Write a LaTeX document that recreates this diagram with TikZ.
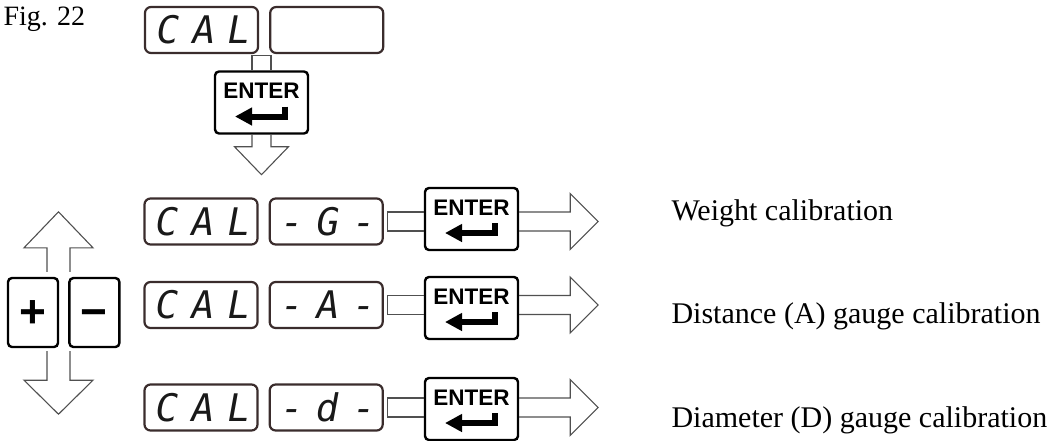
\documentclass[tikz,border=0pt]{standalone}
\usepackage{fontspec}
\setmainfont{Liberation Serif}
\newfontfamily\keyfont{Liberation Sans}
\newfontfamily\segfont[FakeSlant=0.18]{DejaVu Sans Mono}
\usepackage{xcolor}
\usetikzlibrary{positioning,arrows.meta,calc}
\definecolor{dispedge}{RGB}{58,44,44}
\definecolor{hollowline}{RGB}{80,80,80}

\begin{document}
\begin{tikzpicture}[
  x=1pt, y=-1pt,
  display/.style={draw=dispedge, line width=2.2pt, rounded corners=6pt,
                  minimum width=113pt, minimum height=46pt, inner sep=0pt,
                  font=\segfont\fontsize{38}{38}\selectfont, text=black!90},
  enterkey/.style={draw, line width=2.4pt, rounded corners=4pt,
                   minimum width=93pt, minimum height=62pt, inner sep=0pt,
                   text height=16pt, text depth=24pt,
                   font=\keyfont\bfseries\fontsize{22.5}{22.5}\selectfont},
  pmkey/.style={draw, line width=2.4pt, rounded corners=4pt,
                minimum width=50pt, minimum height=69pt, inner sep=0pt,
                text height=30pt, text depth=0pt,
                font=\keyfont\bfseries\fontsize{46}{46}\selectfont},
  hollow/.style={draw=hollowline, line width=1.1pt, line join=miter},
  retarrow/.style={line width=6pt, -{Triangle[length=17pt,width=17pt]}},
  caption/.style={anchor=base west, font=\fontsize{30}{36}\selectfont}
]
\useasboundingbox (0,0) rectangle (1048,440);

\node (fig) [caption, font=\fontsize{28}{34}\selectfont] at (0,25) {Fig. 22};

% top: CAL and empty display, then ENTER
\node (cal0) [display] at (201.5,30) {C\kern13pt A\kern13pt L};
\node (blank0) [display, right=10pt of cal0] {};
\node (enter0) [enterkey] at (261.5,102.5) {ENTER};

% selector rows
\node (calG) [display] at (201,221.5) {C\kern13pt A\kern13pt L};
\node (selG) [display, right=10pt of calG] {-\kern13pt G\kern13pt -};
\node (enterG) [enterkey, right=40pt of selG, yshift=2.5pt] {ENTER};

\node (calA) [display] at (201,305) {C\kern13pt A\kern13pt L};
\node (selA) [display, right=10pt of calA] {-\kern13pt A\kern13pt -};
\node (enterA) [enterkey, right=40pt of selA, yshift=-3pt] {ENTER};

\node (cald) [display] at (201,407.5) {C\kern13pt A\kern13pt L};
\node (seld) [display, right=10pt of cald] {-\kern13pt d\kern13pt -};
\node (enterd) [enterkey, right=40pt of seld, yshift=-1.5pt] {ENTER};

\node (wlabel) [caption] at (668,220) {Weight calibration};
\node (alabel) [caption] at (668,323) {Distance (A) gauge calibration};
\node (dlabel) [caption] at (668,427) {Diameter (D) gauge calibration};

% + / - keys
\node (plus) [pmkey] at (33,312.5) {+};
\node (minus) [pmkey, right=9pt of plus] {−};

% return arrows on the ENTER keys
\foreach \k in {enter0,enterG,enterA,enterd}
  \draw [retarrow] ($(\k.center)+(23.5,4)$) |- ($(\k.center)+(-26.5,14)$);

% hollow arrows
\draw [hollow] ($(enter0.north)+(-9.5,0)$) -- ++(0,-15) -- ++(19,0) -- ++(0,15);
\draw [hollow] ($(enter0.south)+(-9.5,0)$) -- ++(0,12) -- ++(-17.5,0)
  -- ++(27,28) -- ++(27,-28) -- ++(-17.5,0) -- ++(0,-12);

\foreach \r in {G,A,d} {
  \draw [hollow] ($(sel\r.east -| enter\r.west)+(0,-9.5)$) -- ($(sel\r.east)+(4,-9.5)$)
    -- ($(sel\r.east)+(4,9.5)$) -- ($(sel\r.east -| enter\r.west)+(0,9.5)$);
  \draw [hollow] ($(sel\r.east -| enter\r.east)+(0,-9.5)$) -- ++(51,0) -- ++(0,-18.5)
    -- ++(28,28) -- ++(-28,28) -- ++(0,-18.5) -- ($(sel\r.east -| enter\r.east)+(0,9.5)$);
}

\draw [hollow] ($(plus.north)+(14,-5)$) -- ++(0,-24) -- ++(-23,0)
  -- ++(34.5,-36) -- ++(34.5,36) -- ++(-23,0) -- ++(0,24);
\draw [hollow] ($(plus.south)+(14,3)$) -- ++(0,29) -- ++(-23,0)
  -- ++(34.5,34) -- ++(34.5,-34) -- ++(-23,0) -- ++(0,-29);

\end{tikzpicture}
\end{document}
